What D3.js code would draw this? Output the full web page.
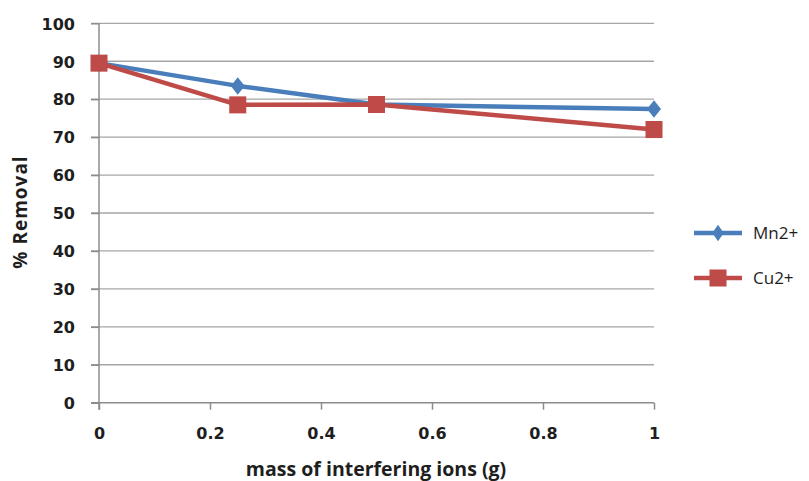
<!DOCTYPE html>
<html><head><meta charset="utf-8">
<script src="https://cdn.jsdelivr.net/npm/d3@7"></script>
<style>body{margin:0;background:#fff}svg{display:block}</style>
</head><body>
<script>
const xValues = [0, 0.25, 0.5, 1];
const mnValues = [89.5, 83.5, 78.6, 77.4];
const cuValues = [89.5, 78.5, 78.6, 72];
const seriesNames = ["Mn2+", "Cu2+"];
const xTicks = [0, 0.2, 0.4, 0.6, 0.8, 1];
const yTicks = [0, 10, 20, 30, 40, 50, 60, 70, 80, 90, 100];

const W = 809, H = 481;
const svg = d3.select("body").append("svg").attr("width", W).attr("height", H);
const x = d3.scaleLinear().domain([0, 1]).range([99, 654]);
const y = d3.scaleLinear().domain([0, 100]).range([402.7, 23.3]);
const gridCol = "#a6a6a6", axisCol = "#8c8c8c";
const font = "'DejaVu Sans', sans-serif";

// gridlines
svg.append("g").selectAll("line").data(yTicks.filter(d => d > 0)).join("line")
  .attr("x1", 91).attr("x2", x(1)).attr("y1", d => y(d)).attr("y2", d => y(d))
  .attr("stroke", gridCol).attr("stroke-width", 1.3);

// axes
const gx = svg.append("g").attr("transform", `translate(0,${y(0)})`)
  .call(d3.axisBottom(x).tickValues(xTicks).tickSize(7).tickFormat(d => d3.format("")(d)).tickPadding(18));
const gy = svg.append("g").attr("transform", `translate(${x(0)},0)`)
  .call(d3.axisLeft(y).tickValues(yTicks).tickSize(8).tickPadding(16));
[gx, gy].forEach(g => {
  g.select(".domain").attr("stroke", axisCol).attr("stroke-width", 1.5);
  g.selectAll(".tick line").attr("stroke", axisCol).attr("stroke-width", 1.5);
  g.selectAll(".tick text").attr("fill", "#1e1e1e").style("font-family", font)
    .style("font-weight", "bold").style("font-size", "16px");
});
gy.select(".domain").attr("d", `M0,${y(100)}V${y(0) + 7}`);
gx.select(".domain").attr("d", `M91,0H${x(1)}`);
gy.selectAll(".tick line").attr("x2", -8);
gy.selectAll(".tick text").attr("dy", "0.36em");

// lines
const colors = ["#4a7ebb", "#be4b48"];
const data = [mnValues, cuValues];
const line = d3.line().x((d, i) => x(xValues[i])).y(d => y(d));
data.forEach((vals, k) => {
  svg.append("path").datum(vals).attr("d", line).attr("fill", "none")
    .attr("stroke", colors[k]).attr("stroke-width", 4.5).attr("stroke-linejoin", "round");
});
const diamond = d3.symbol().type(d3.symbolDiamond2).size(195);
const square = d3.symbol().type(d3.symbolSquare).size(290);
svg.append("g").selectAll("path").data(mnValues).join("path")
  .attr("d", diamond).attr("fill", colors[0])
  .attr("transform", (d, i) => `translate(${x(xValues[i])},${y(d)}) scale(0.8,1)`);
svg.append("g").selectAll("path").data(cuValues).join("path")
  .attr("d", square).attr("fill", colors[1])
  .attr("transform", (d, i) => `translate(${x(xValues[i])},${y(d)})`);

// axis titles
svg.append("text").attr("x", 376).attr("y", 476).attr("text-anchor", "middle")
  .style("font-family", "'Open Sans', sans-serif").style("font-weight", "bold").style("font-size", "19.5px")
  .attr("fill", "#1e1e1e").text("mass of interfering ions (g)");
svg.append("text").attr("transform", "translate(27,212) rotate(-90)").attr("text-anchor", "middle")
  .style("font-family", "'Open Sans', sans-serif").style("font-weight", "bold").style("font-size", "19px")
  .style("letter-spacing", "1px")
  .attr("fill", "#1e1e1e").text("% Removal");

// legend
const leg = svg.append("g");
seriesNames.forEach((name, k) => {
  const ly = 233 + k * 45;
  leg.append("line").attr("x1", 694).attr("x2", 742).attr("y1", ly).attr("y2", ly)
    .attr("stroke", colors[k]).attr("stroke-width", 4.5);
  leg.append("path").attr("d", k === 0 ? diamond : square).attr("fill", colors[k])
    .attr("transform", `translate(718,${ly})` + (k === 0 ? " scale(0.65,0.95)" : ""));
  leg.append("text").attr("x", 753).attr("y", ly).attr("dy", "0.36em")
    .style("font-family", "'Open Sans', sans-serif").style("font-size", "17px")
    .attr("fill", "#1e1e1e").text(name);
});
</script>
</body></html>
